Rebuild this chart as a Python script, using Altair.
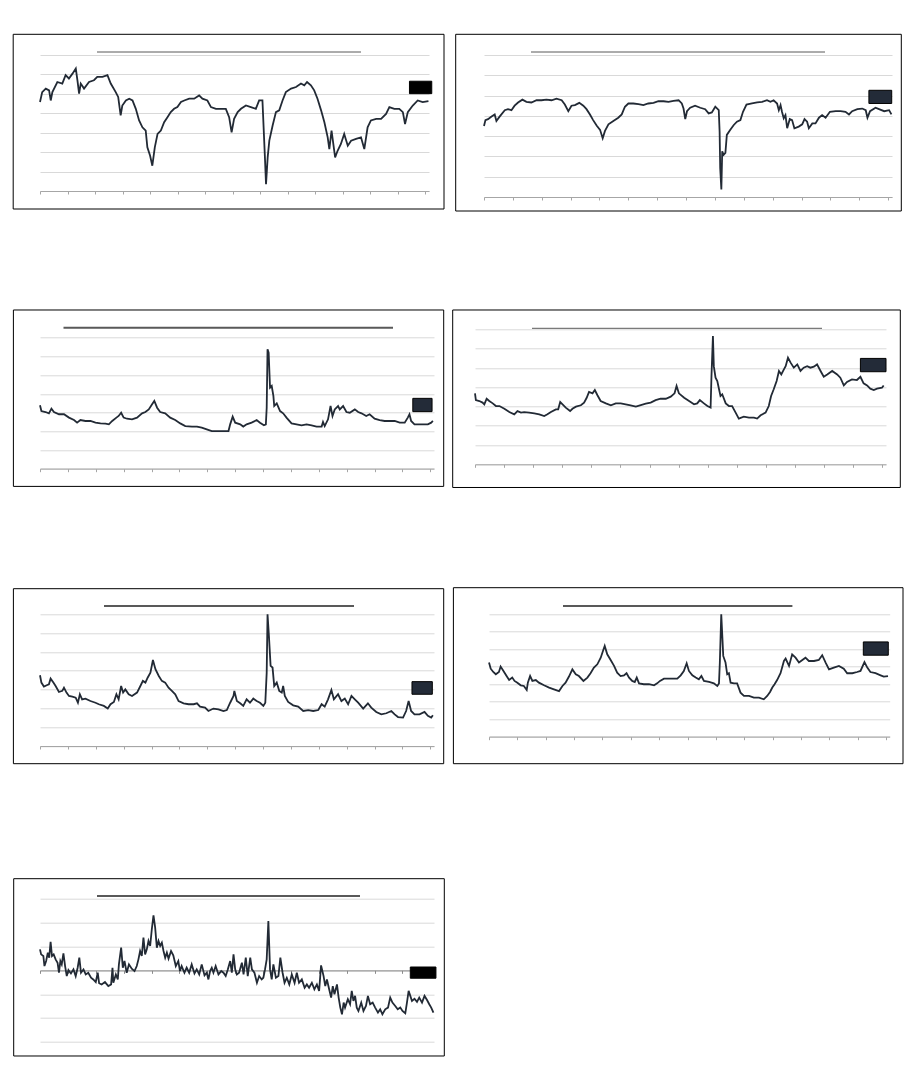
import altair as alt
import pandas as pd

# ---- data: (years since 2012, value) ----
P1 = [(0.00,4.58),(0.08,5.09),(0.21,5.27),(0.33,5.18),(0.39,4.66),(0.45,5.09),(0.63,5.61),(0.81,5.53),(0.93,5.96),(1.05,5.79),
      (1.18,6.04),(1.30,6.30),(1.36,5.70),(1.42,5.01),(1.48,5.53),(1.60,5.27),(1.78,5.61),(1.96,5.70),(2.08,5.87),(2.27,5.87),
      (2.45,5.96),(2.57,5.53),(2.75,5.09),(2.84,4.84),(2.93,3.89),(2.99,4.40),(3.12,4.66),(3.24,4.75),(3.36,4.66),(3.48,4.23),
      (3.60,3.63),(3.72,3.28),(3.84,3.11),(3.90,2.25),(4.00,1.81),(4.08,1.30),(4.17,2.25),(4.27,2.94),(4.39,3.11),(4.51,3.54),
      (4.63,3.80),(4.75,4.06),(4.87,4.23),(4.99,4.32),(5.12,4.58),(5.24,4.66),(5.42,4.75),(5.60,4.75),(5.78,4.92),(5.90,4.75),
      (6.08,4.66),(6.21,4.32),(6.39,4.23),(6.57,4.23),(6.75,4.23),(6.87,3.80),(6.96,3.02),(7.05,3.71),(7.18,4.06),(7.30,4.23),
      (7.48,4.40),(7.66,4.32),(7.84,4.23),(7.96,4.66),(8.08,4.66),(8.17,1.73),(8.21,0.35),(8.27,1.73),(8.33,2.59),(8.45,3.37),
      (8.57,4.06),(8.69,4.15),(8.81,4.66),(8.93,5.09),(9.12,5.27),(9.30,5.35),(9.48,5.53),(9.60,5.44),(9.70,5.61),(9.84,5.44),
      (9.96,5.18),(10.08,4.75),(10.21,4.15),(10.33,3.54),(10.45,2.76),(10.51,2.16),(10.59,3.11),(10.72,1.73),(10.81,2.07),(10.93,2.42),
      (11.05,2.94),(11.18,2.33),(11.30,2.59),(11.48,2.68),(11.66,2.76),(11.78,2.16),(11.90,3.28),(12.02,3.63),(12.21,3.71),(12.39,3.71),
      (12.57,3.97),(12.69,4.32),(12.87,4.23),(13.05,4.23),(13.18,4.06),(13.26,3.45),(13.36,4.06),(13.54,4.40),(13.72,4.66),(13.90,4.58),
      (14.11,4.63)]

P2 = [(0.00,3.50),(0.05,3.79),(0.14,3.84),(0.25,3.96),(0.37,4.07),(0.43,3.75),(0.54,3.96),(0.72,4.28),(0.83,4.33),(0.95,4.28),
      (1.06,4.50),(1.18,4.66),(1.33,4.80),(1.47,4.69),(1.64,4.66),(1.82,4.77),(1.99,4.77),(2.16,4.80),(2.34,4.77),(2.51,4.85),
      (2.69,4.77),(2.80,4.56),(2.92,4.23),(3.03,4.50),(3.15,4.53),(3.30,4.64),(3.44,4.50),(3.55,4.33),(3.67,4.07),(3.78,3.79),
      (3.90,3.52),(4.02,3.31),(4.11,2.90),(4.19,3.26),(4.31,3.58),(4.48,3.75),(4.65,3.91),(4.77,4.07),(4.88,4.45),(5.00,4.61),
      (5.17,4.61),(5.35,4.58),(5.52,4.53),(5.69,4.61),(5.87,4.64),(6.04,4.72),(6.22,4.72),(6.39,4.69),(6.56,4.74),(6.74,4.77),
      (6.85,4.61),(6.91,4.36),(6.97,3.84),(7.03,4.23),(7.14,4.40),(7.31,4.50),(7.49,4.40),(7.66,4.33),(7.78,4.12),(7.89,4.17),
      (8.01,4.45),(8.13,4.28),(8.16,3.22),(8.18,1.43),(8.22,0.37),(8.25,2.25),(8.30,2.08),(8.36,2.17),(8.41,3.06),(8.53,3.31),
      (8.65,3.55),(8.76,3.71),(8.88,3.79),(8.97,4.20),(9.09,4.56),(9.28,4.61),(9.46,4.66),(9.63,4.69),(9.80,4.77),(9.92,4.69),
      (10.03,4.77),(10.15,4.61),(10.21,4.28),(10.27,4.53),(10.32,4.20),(10.38,3.88),(10.44,4.04),(10.50,3.39),(10.59,3.84),(10.67,3.79),
      (10.75,3.39),(10.90,3.47),(11.02,3.58),(11.10,3.84),(11.19,3.71),(11.25,3.39),(11.37,3.63),(11.48,3.63),(11.60,3.91),(11.71,4.04),
      (11.83,3.91),(11.98,4.20),(12.18,4.23),(12.35,4.23),(12.52,4.20),(12.64,4.07),(12.75,4.23),(12.93,4.33),(13.10,4.36),(13.22,4.28),
      (13.28,3.91),(13.37,4.23),(13.56,4.40),(13.68,4.33),(13.86,4.23),(14.03,4.28),(14.11,4.07)]

P3 = [(0.00,3.39),(0.05,3.08),(0.20,3.03),(0.32,2.96),(0.41,3.21),(0.50,3.03),(0.68,2.91),(0.86,2.91),(1.04,2.73),(1.22,2.60),
      (1.33,2.46),(1.45,2.60),(1.63,2.55),(1.81,2.55),(1.99,2.46),(2.17,2.42),(2.35,2.41),(2.47,2.37),(2.59,2.55),(2.74,2.73),
      (2.82,2.82),(2.91,2.99),(3.00,2.73),(3.12,2.67),(3.30,2.64),(3.48,2.73),(3.66,2.96),(3.78,3.03),(3.90,3.17),(4.02,3.44),
      (4.10,3.62),(4.20,3.26),(4.31,3.03),(4.49,2.96),(4.67,2.73),(4.85,2.60),(5.03,2.42),(5.21,2.28),(5.45,2.25),(5.63,2.25),
      (5.80,2.19),(5.98,2.10),(6.16,2.01),(6.34,2.01),(6.58,2.01),(6.76,2.01),(6.82,2.37),(6.91,2.78),(7.00,2.46),(7.18,2.37),
      (7.29,2.25),(7.41,2.37),(7.59,2.46),(7.77,2.60),(7.89,2.46),(8.03,2.32),(8.10,2.37),(8.13,3.26),(8.16,6.38),(8.20,6.20),
      (8.25,4.33),(8.31,4.42),(8.37,3.89),(8.40,3.35),(8.49,3.49),(8.61,3.08),(8.72,2.96),(8.84,2.73),(9.02,2.42),(9.20,2.37),
      (9.38,2.32),(9.56,2.37),(9.74,2.32),(9.92,2.25),(10.10,2.25),(10.15,2.50),(10.21,2.28),(10.33,2.64),(10.42,3.35),(10.49,2.82),
      (10.57,3.17),(10.69,3.35),(10.75,3.17),(10.87,3.35),(10.99,3.03),(11.11,2.99),(11.29,3.17),(11.41,3.03),(11.53,2.96),(11.70,2.82),
      (11.82,2.91),(12.00,2.67),(12.18,2.60),(12.36,2.55),(12.54,2.55),(12.72,2.55),(12.90,2.46),(13.08,2.46),(13.19,2.73),(13.25,2.91),
      (13.31,2.55),(13.43,2.37),(13.61,2.37),(13.79,2.37),(13.91,2.37),(14.03,2.46),(14.09,2.55)]

P4 = [(0.00,3.68),(0.03,3.33),(0.15,3.28),(0.26,3.20),(0.32,3.11),(0.40,3.40),(0.49,3.28),(0.61,3.16),(0.72,3.02),(0.84,3.02),
      (1.01,2.88),(1.18,2.71),(1.35,2.59),(1.46,2.76),(1.58,2.68),(1.69,2.71),(1.86,2.68),(2.04,2.64),(2.21,2.59),(2.38,2.50),
      (2.49,2.59),(2.61,2.71),(2.78,2.85),(2.86,2.85),(2.93,3.23),(3.01,3.11),(3.12,2.94),(3.27,2.76),(3.35,2.88),(3.47,2.99),
      (3.64,3.06),(3.75,3.20),(3.84,3.45),(3.92,3.75),(4.04,3.68),(4.12,3.85),(4.21,3.58),(4.32,3.28),(4.50,3.16),(4.67,3.06),
      (4.84,3.16),(5.01,3.16),(5.18,3.11),(5.35,3.06),(5.53,2.99),(5.70,3.07),(5.87,3.14),(6.04,3.20),(6.21,3.33),(6.38,3.40),
      (6.56,3.40),(6.73,3.51),(6.86,3.68),(6.93,4.06),(7.01,3.68),(7.19,3.45),(7.36,3.28),(7.53,3.11),(7.64,3.16),(7.73,3.33),
      (7.87,3.16),(7.99,3.02),(8.10,2.94),(8.13,4.58),(8.18,6.65),(8.21,5.09),(8.27,4.49),(8.33,4.32),(8.39,3.89),(8.44,3.54),
      (8.50,3.63),(8.62,3.16),(8.73,3.02),(8.84,3.02),(8.96,2.68),(9.07,2.37),(9.24,2.47),(9.42,2.42),(9.59,2.42),(9.70,2.37),
      (9.82,2.54),(9.99,2.68),(10.10,3.02),(10.18,3.54),(10.27,3.89),(10.37,4.32),(10.45,4.84),(10.53,4.66),(10.62,4.92),(10.68,5.09),
      (10.76,5.53),(10.85,5.27),(10.96,5.01),(11.08,5.18),(11.19,4.84),(11.30,5.01),(11.42,5.09),(11.53,5.01),(11.65,5.06),(11.76,5.18),
      (11.88,4.84),(11.99,4.54),(12.11,4.66),(12.28,4.84),(12.45,4.66),(12.56,4.49),(12.68,4.09),(12.79,4.27),(12.96,4.40),(13.13,4.37),
      (13.25,4.54),(13.36,4.20),(13.48,4.09),(13.59,3.92),(13.71,3.85),(13.82,3.92),(13.99,3.97),(14.05,4.09)]

P5 = [(0.00,3.76),(0.05,3.37),(0.14,3.16),(0.24,3.23),(0.32,3.28),(0.38,3.58),(0.48,3.37),(0.56,3.19),(0.68,2.87),(0.80,2.93),
      (0.86,3.10),(0.95,2.84),(1.04,2.66),(1.16,2.62),(1.28,2.57),(1.36,2.30),(1.43,2.75),(1.51,2.48),(1.63,2.52),(1.81,2.39),
      (1.99,2.30),(2.11,2.22),(2.29,2.13),(2.43,1.99),(2.53,2.22),(2.65,2.34),(2.74,2.75),(2.82,2.48),(2.91,3.19),(2.98,2.84),
      (3.06,3.01),(3.18,2.75),(3.30,2.66),(3.48,2.84),(3.60,3.19),(3.69,3.46),(3.78,3.37),(3.86,3.63),(3.96,3.90),(4.05,4.57),
      (4.14,4.08),(4.26,3.72),(4.37,3.46),(4.49,3.37),(4.61,3.10),(4.73,2.93),(4.85,2.75),(4.97,2.39),(5.15,2.27),(5.33,2.22),
      (5.51,2.22),(5.63,2.27),(5.74,2.09),(5.92,2.04),(6.04,1.86),(6.22,1.99),(6.40,1.95),(6.58,1.86),(6.70,1.91),(6.82,2.30),
      (6.94,2.66),(6.97,2.93),(7.06,2.39),(7.18,2.27),(7.29,2.13),(7.41,2.48),(7.53,2.30),(7.65,2.52),(7.77,2.39),(7.89,2.30),
      (8.01,2.13),(8.08,2.30),(8.13,3.90),(8.16,7.00),(8.21,5.85),(8.27,4.26),(8.34,4.17),(8.40,3.19),(8.49,3.37),(8.58,2.93),
      (8.67,2.84),(8.72,3.19),(8.78,2.66),(8.90,2.34),(9.08,2.16),(9.26,2.09),(9.44,1.86),(9.62,1.91),(9.80,1.86),(9.98,1.91),
      (10.10,2.22),(10.21,2.09),(10.33,2.48),(10.45,2.98),(10.54,2.48),(10.69,2.75),(10.81,2.39),(10.93,2.52),(11.05,2.22),(11.17,2.66),
      (11.29,2.48),(11.41,2.30),(11.59,1.99),(11.76,2.27),(11.88,2.04),(12.06,1.81),(12.24,1.68),(12.42,1.74),(12.60,1.86),(12.72,1.68),
      (12.84,1.54),(13.02,1.51),(13.13,1.86),(13.22,2.39),(13.31,1.86),(13.43,1.68),(13.61,1.68),(13.79,1.81),(13.91,1.60),(14.03,1.51),
      (14.09,1.63)]

P6 = [(0.00,4.24),(0.06,3.89),(0.15,3.70),(0.24,3.57),(0.35,3.70),(0.41,4.01),(0.51,3.76),(0.62,3.47),(0.71,3.24),(0.82,3.38),
      (0.90,3.19),(1.00,3.09),(1.12,2.94),(1.23,2.90),(1.33,2.67),(1.37,3.09),(1.45,3.47),(1.53,3.19),(1.65,3.24),(1.76,3.09),
      (1.94,2.94),(2.12,2.81),(2.29,2.71),(2.47,2.61),(2.59,2.90),(2.70,3.09),(2.82,3.44),(2.94,3.85),(3.06,3.57),(3.17,3.47),
      (3.33,3.19),(3.47,3.38),(3.58,3.63),(3.70,3.95),(3.82,4.14),(3.94,4.52),(4.03,4.96),(4.08,5.19),(4.17,4.71),(4.29,4.39),
      (4.41,4.05),(4.52,3.66),(4.64,3.47),(4.76,3.51),(4.85,3.63),(4.94,3.38),(5.05,3.19),(5.14,3.13),(5.21,3.38),(5.29,3.05),
      (5.46,3.00),(5.64,3.00),(5.82,2.94),(5.93,3.05),(6.03,3.19),(6.17,3.32),(6.40,3.32),(6.64,3.32),(6.76,3.51),(6.87,3.76),
      (6.97,4.20),(7.05,3.76),(7.17,3.51),(7.29,3.38),(7.40,3.28),(7.49,3.47),(7.58,3.19),(7.76,3.13),(7.93,3.05),(8.05,2.90),
      (8.11,3.05),(8.14,4.24),(8.19,7.00),(8.23,5.67),(8.26,4.62),(8.34,4.24),(8.40,3.57),(8.46,3.63),(8.52,3.09),(8.64,3.05),
      (8.75,3.05),(8.87,2.52),(8.99,2.33),(9.17,2.33),(9.34,2.23),(9.52,2.23),(9.69,2.14),(9.81,2.33),(9.91,2.56),(9.99,2.81),
      (10.07,3.00),(10.16,3.24),(10.28,3.63),(10.40,4.33),(10.46,4.47),(10.58,4.05),(10.69,4.71),(10.81,4.52),(10.93,4.24),(11.05,4.39),
      (11.16,4.52),(11.28,4.33),(11.46,4.33),(11.63,4.39),(11.75,4.66),(11.87,4.24),(11.99,3.85),(12.16,3.95),(12.34,4.05),(12.51,3.89),
      (12.63,3.63),(12.81,3.63),(12.98,3.70),(13.10,3.76),(13.24,4.27),(13.34,3.95),(13.45,3.70),(13.63,3.63),(13.81,3.51),(13.92,3.44),
      (14.07,3.47)]

P7 = [(0.00,0.88),(0.04,0.67),(0.12,0.60),(0.16,0.18),(0.22,0.39),(0.28,0.74),(0.33,0.53),(0.38,1.19),(0.43,0.60),(0.49,0.67),
      (0.56,0.46),(0.63,0.32),(0.68,-0.10),(0.73,0.39),(0.78,0.25),(0.84,0.71),(0.90,0.18),(0.96,-0.24),(1.02,0.01),(1.11,-0.13),
      (1.20,0.04),(1.28,-0.24),(1.35,0.11),(1.41,0.53),(1.47,-0.10),(1.56,0.04),(1.64,-0.17),(1.73,-0.10),(1.83,-0.31),(1.91,-0.38),
      (2.00,-0.49),(2.07,-0.10),(2.12,-0.54),(2.21,-0.59),(2.33,-0.49),(2.45,-0.66),(2.55,-0.59),(2.60,0.11),(2.63,-0.52),(2.72,-0.17),
      (2.79,-0.38),(2.83,0.25),(2.91,0.95),(2.97,0.11),(3.03,0.39),(3.11,-0.10),(3.19,0.25),(3.29,0.07),(3.39,-0.03),(3.47,0.18),
      (3.53,0.46),(3.59,0.81),(3.65,0.60),(3.71,1.37),(3.77,0.67),(3.83,0.88),(3.89,1.23),(3.95,1.02),(4.01,1.72),(4.07,2.30),
      (4.13,1.79),(4.19,0.95),(4.25,1.23),(4.31,1.02),(4.37,1.16),(4.43,0.81),(4.49,0.53),(4.55,0.74),(4.61,0.49),(4.70,0.81),
      (4.78,0.63),(4.87,0.18),(4.96,0.39),(5.02,-0.03),(5.08,0.18),(5.18,-0.10),(5.26,0.11),(5.35,-0.10),(5.44,0.25),(5.54,-0.13),
      (5.62,0.04),(5.71,-0.17),(5.80,0.25),(5.90,-0.21),(5.98,-0.10),(6.04,-0.38),(6.10,-0.03),(6.16,0.11),(6.22,-0.10),(6.30,0.18),
      (6.40,-0.17),(6.50,-0.03),(6.58,-0.10),(6.66,-0.24),(6.73,0.01),(6.82,0.39),(6.88,-0.10),(6.94,0.67),(7.00,0.04),(7.06,-0.17),
      (7.14,-0.10),(7.24,0.32),(7.30,-0.17),(7.38,0.53),(7.45,-0.24),(7.54,0.53),(7.60,0.04),(7.69,-0.10),(7.78,-0.52),(7.86,-0.24),
      (7.95,-0.38),(8.01,-0.31),(8.07,0.04),(8.13,0.46),(8.19,2.06),(8.25,0.04),(8.31,-0.38),(8.37,0.25),(8.46,-0.31),(8.55,-0.24),
      (8.62,0.53),(8.70,-0.10),(8.77,-0.52),(8.85,-0.31),(8.94,-0.59),(9.03,-0.17),(9.13,-0.52),(9.21,-0.10),(9.29,-0.52),(9.39,-0.38),
      (9.49,-0.73),(9.57,-0.59),(9.65,-0.73),(9.75,-0.52),(9.84,-0.79),(9.93,-0.59),(10.01,-0.86),(10.08,0.21),(10.17,-0.24),(10.23,-0.66),
      (10.29,-0.38),(10.37,-0.79),(10.44,-1.14),(10.50,-0.66),(10.56,-1.00),(10.65,-0.59),(10.71,-1.14),(10.77,-1.56),(10.83,-1.84),(10.89,-1.35),
      (10.94,-1.56),(11.04,-1.21),(11.12,-1.42),(11.18,-0.86),(11.24,-1.28),(11.30,-1.07),(11.36,-1.56),(11.42,-1.70),(11.52,-1.35),(11.60,-1.70),
      (11.69,-1.49),(11.76,-1.07),(11.84,-1.42),(11.93,-1.35),(12.02,-1.56),(12.12,-1.77),(12.20,-1.63),(12.28,-1.84),(12.38,-1.63),(12.48,-1.56),
      (12.56,-1.14),(12.64,-1.35),(12.74,-1.49),(12.83,-1.63),(12.92,-1.56),(13.00,-1.70),(13.10,-1.80),(13.16,-1.35),(13.22,-0.86),(13.28,-1.07),
      (13.34,-1.28),(13.43,-1.19),(13.52,-1.32),(13.60,-1.14),(13.70,-1.35),(13.79,-1.07),(13.88,-1.24),(13.96,-1.42),(14.03,-1.56),(14.11,-1.77)]

# label boxes (redacted end-value tags): t0, t1, v_top, v_bottom
BOX1 = (13.42, 14.23, 5.65, 5.01)
BOX2 = (13.33, 14.12, 5.26, 4.61)
BOX3 = (13.37, 14.06, 3.76, 3.05)
BOX4 = (13.25, 14.13, 5.49, 4.80)
BOX5 = (13.34, 14.07, 3.42, 2.75)
BOX6 = (13.20, 14.08, 5.42, 4.66)
BOX7 = (13.28, 14.20, 0.14, -0.33)

YEAR0 = 2012
X_END = 14.13
YEAR_TICKS = list(range(2012, 2027))
GRID_0_7 = [0, 1, 2, 3, 4, 5, 6, 7]
GRID_PM3 = [-3, -2, -1, 0, 1, 2, 3]

LINE = "#222a35"
GRID = "#d9d9d9"
AXIS = "#a6a6a6"
TITLE = "#595959"
NAVY = "#232b38"


def panel(series, w, h, ydom, yticks, box, box_fill, frame, title, axis_offset=None, axis_color=AXIS):
    df = pd.DataFrame(series, columns=["t", "v"])
    df["year"] = YEAR0 + df["t"]
    xs = alt.Scale(domain=[YEAR0, YEAR0 + X_END], nice=False, zero=False)
    ys = alt.Scale(domain=ydom, nice=False, zero=False)
    ax_kw = dict(values=YEAR_TICKS, labels=False, title=None, grid=False, ticks=True,
                 tickSize=3, tickColor=axis_color, domainColor=axis_color, domainWidth=1)
    if axis_offset is not None:
        ax_kw["offset"] = axis_offset
    xaxis = alt.Axis(**ax_kw)
    yaxis = alt.Axis(values=yticks, labels=False, ticks=False, domain=False, grid=True,
                     gridColor=GRID, gridWidth=1, title=None)
    one = pd.DataFrame({"k": [0]})
    fx0, fx1, fy0, fy1 = frame
    frame_layer = alt.Chart(one).mark_rect(fill="white", fillOpacity=0, stroke="black", strokeWidth=1).encode(
        x=alt.value(fx0), x2=alt.value(w + fx1), y=alt.value(fy0), y2=alt.value(h + fy1))
    tx0, tx1, ty, tw = title
    title_layer = alt.Chart(one).mark_rule(color=TITLE, strokeWidth=tw).encode(
        x=alt.value(tx0), x2=alt.value(tx1), y=alt.value(ty))
    line = alt.Chart(df).mark_line(color=LINE, strokeWidth=1.8).encode(
        x=alt.X("year:Q", scale=xs, axis=xaxis),
        y=alt.Y("v:Q", scale=ys, axis=yaxis))
    bdf = pd.DataFrame({"year": [YEAR0 + box[0]], "year2": [YEAR0 + box[1]], "v": [box[2]], "v2": [box[3]]})
    box_layer = alt.Chart(bdf).mark_rect(fill=box_fill, stroke="black", strokeWidth=1).encode(
        x=alt.X("year:Q", scale=xs, axis=xaxis), x2="year2:Q",
        y=alt.Y("v:Q", scale=ys, axis=yaxis), y2="v2:Q")
    return alt.layer(frame_layer, line, title_layer, box_layer).properties(width=w, height=h)


p1 = panel(P1, 389, 136, [0, 7], GRID_0_7, BOX1, "black", (-26.8, 15, -20.7, 18), (57, 321, -3, 1))
p2 = panel(P2, 408, 142, [0, 7], GRID_0_7, BOX2, NAVY, (-28.3, 9.3, -20.7, 14), (47, 341, -3, 1))
p3 = panel(P3, 394, 139.4, [0, 7.45], GRID_0_7, BOX3, NAVY, (-26.6, 9.7, -19.3, 17.7), (23.5, 353, -1.6, 2))
p4 = panel(P4, 411, 135, [0, 7], GRID_0_7, BOX4, NAVY, (-22.3, 14.3, -19.3, 23.2), (57, 347, -1, 1))
p5 = panel(P5, 394, 131.7, [0, 7], GRID_0_7, BOX5, NAVY, (-26.6, 9.7, -25.6, 17.7), (64, 314, -8.3, 2))
p6 = panel(P6, 400.7, 122.4, [0, 7], GRID_0_7, BOX6, NAVY, (-35.6, 13.3, -26.6, 27), (74, 303.4, -8.3, 2))
p7 = panel(P7, 394, 143.3, [-3, 3], GRID_PM3, BOX7, "black", (-26.3, 10.3, -20, 14), (57, 320, -2.7, 2),
           axis_offset=-71.65, axis_color="#8c8c8c")

# with flush bounds a nested row counts as zero height, so spacings are top-to-top distances
row1 = alt.hconcat(p1, p2, spacing=55, bounds="flush")
row2 = alt.hconcat(p3, p4, spacing=41, bounds="flush")
row3 = alt.hconcat(p5, p6, spacing=55, bounds="flush")
inner3 = alt.vconcat(row3, p7, spacing=284.4, bounds="flush")
inner2 = alt.vconcat(row2, inner3, spacing=285, bounds="flush")
chart = alt.vconcat(row1, inner2, spacing=274.3, bounds="flush").properties(
    padding={"left": 4, "top": 25, "right": 5, "bottom": 5},
    background="white",
).configure_view(strokeWidth=0)

chart.save("out.html", embed_options={"renderer": "svg", "actions": False})
